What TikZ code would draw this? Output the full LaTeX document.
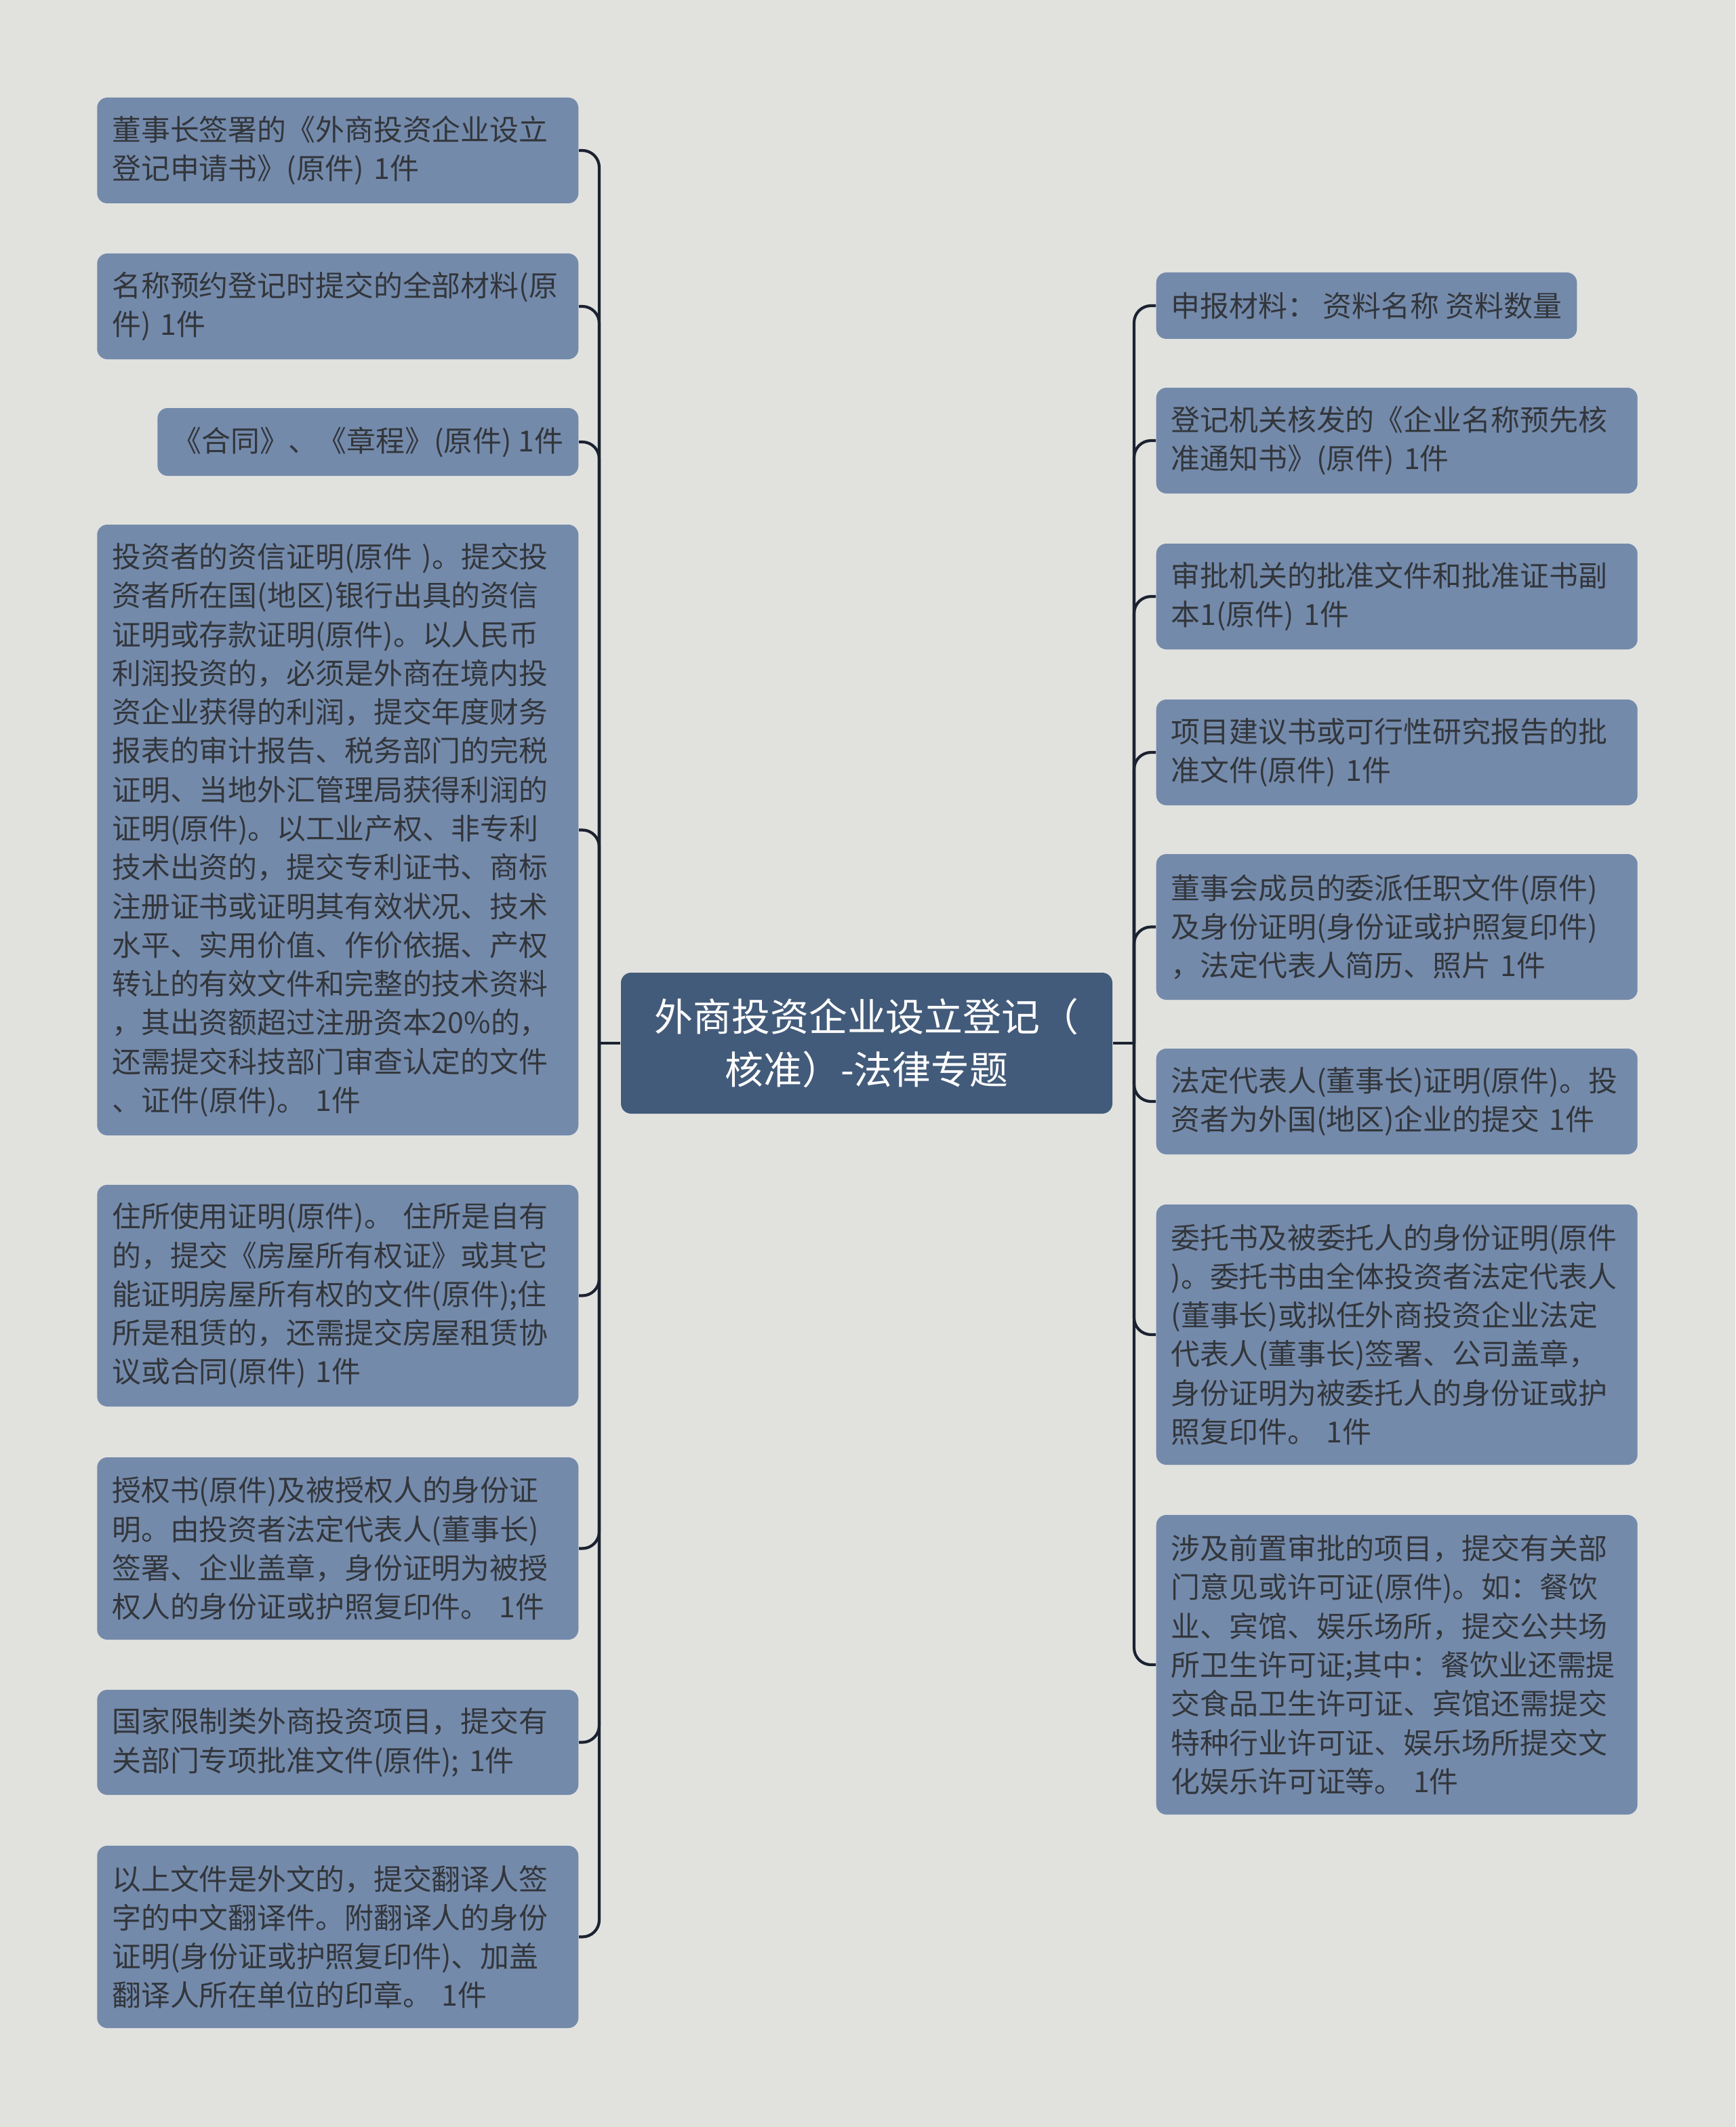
\documentclass[tikz,border=0pt]{standalone}
\usepackage{fontspec}
\setmainfont{Noto Sans CJK SC}
\usetikzlibrary{positioning}
\definecolor{bgcol}{HTML}{E1E2DE}
\definecolor{leafcol}{HTML}{748AAB}
\definecolor{rootcol}{HTML}{435B7A}
\definecolor{linecol}{HTML}{1B2230}
\definecolor{textcol}{HTML}{32363B}
\tikzset{
  leaf/.style={rectangle,rounded corners=0.15cm,fill=leafcol,text=textcol,
    font=\fontsize{12.2pt}{16.3pt}\selectfont,inner xsep=0.22cm,
    inner ysep=0.1cm,align=left},
  wide/.style={text width=6.66cm,minimum height=#1},
  leftleaf/.style={leaf,anchor=east},
  rightleaf/.style={leaf,anchor=west},
  root/.style={rectangle,rounded corners=0.15cm,fill=rootcol,text=white,
    font=\fontsize{16.2pt}{22pt}\selectfont,align=center,
    minimum width=7.25cm,minimum height=2.08cm},
  link/.style={draw=linecol,line width=1.2pt,rounded corners=0.25cm}
}

\begin{document}
\begin{tikzpicture}
  \fill[bgcol] (0,0) rectangle (25.6,-31.38);
  \useasboundingbox (0,0) rectangle (25.6,-31.38);

  \node (root) [root] at (12.785,-15.39)
    {外商投资企业设立登记（\\核准）-法律专题};

  % left side
  \node (l1) [leftleaf,wide=1.56cm] at (8.54,-2.22)
    {董事长签署的《外商投资企业设立\\
     登记申请书》(原件) 1件};
  \node (l2) [leftleaf,wide=1.56cm] at (8.54,-4.52)
    {名称预约登记时提交的全部材料(原\\
     件) 1件};
  \node (l3) [leftleaf,minimum height=1.0cm] at (8.54,-6.52)
    {《合同》、《章程》(原件) 1件};
  \node (l4) [leftleaf,wide=9.01cm] at (8.54,-12.245)
    {投资者的资信证明(原件 )。提交投\\
     资者所在国(地区)银行出具的资信\\
     证明或存款证明(原件)。以人民币\\
     利润投资的，必须是外商在境内投\\
     资企业获得的利润，提交年度财务\\
     报表的审计报告、税务部门的完税\\
     证明、当地外汇管理局获得利润的\\
     证明(原件)。以工业产权、非专利\\
     技术出资的，提交专利证书、商标\\
     注册证书或证明其有效状况、技术\\
     水平、实用价值、作价依据、产权\\
     转让的有效文件和完整的技术资料\\
     ，其出资额超过注册资本20\%的，\\
     还需提交科技部门审查认定的文件\\
     、证件(原件)。 1件};
  \node (l5) [leftleaf,wide=3.27cm] at (8.54,-19.115)
    {住所使用证明(原件)。 住所是自有\\
     的，提交《房屋所有权证》或其它\\
     能证明房屋所有权的文件(原件);住\\
     所是租赁的，还需提交房屋租赁协\\
     议或合同(原件) 1件};
  \node (l6) [leftleaf,wide=2.69cm] at (8.54,-22.845)
    {授权书(原件)及被授权人的身份证\\
     明。由投资者法定代表人(董事长)\\
     签署、企业盖章，身份证明为被授\\
     权人的身份证或护照复印件。 1件};
  \node (l7) [leftleaf,wide=1.55cm] at (8.54,-25.705)
    {国家限制类外商投资项目，提交有\\
     关部门专项批准文件(原件); 1件};
  \node (l8) [leftleaf,wide=2.69cm] at (8.54,-28.575)
    {以上文件是外文的，提交翻译人签\\
     字的中文翻译件。附翻译人的身份\\
     证明(身份证或护照复印件)、加盖\\
     翻译人所在单位的印章。 1件};

  % right side
  \node (r1) [rightleaf,minimum height=0.98cm] at (17.05,-4.51)
    {申报材料：\ 资料名称 资料数量};
  \node (r2) [rightleaf,wide=1.56cm] at (17.05,-6.50)
    {登记机关核发的《企业名称预先核\\
     准通知书》(原件) 1件};
  \node (r3) [rightleaf,wide=1.56cm] at (17.05,-8.80)
    {审批机关的批准文件和批准证书副\\
     本1(原件) 1件};
  \node (r4) [rightleaf,wide=1.56cm] at (17.05,-11.10)
    {项目建议书或可行性研究报告的批\\
     准文件(原件) 1件};
  \node (r5) [rightleaf,wide=2.15cm] at (17.05,-13.675)
    {董事会成员的委派任职文件(原件)\\
     及身份证明(身份证或护照复印件)\\
     ，法定代表人简历、照片 1件};
  \node (r6) [rightleaf,wide=1.56cm] at (17.05,-16.25)
    {法定代表人(董事长)证明(原件)。投\\
     资者为外国(地区)企业的提交 1件};
  \node (r7) [rightleaf,wide=3.84cm] at (17.05,-19.69)
    {委托书及被委托人的身份证明(原件\\
     )。委托书由全体投资者法定代表人\\
     (董事长)或拟任外商投资企业法定\\
     代表人(董事长)签署、公司盖章，\\
     身份证明为被委托人的身份证或护\\
     照复印件。 1件};
  \node (r8) [rightleaf,wide=4.42cm] at (17.05,-24.56)
    {涉及前置审批的项目，提交有关部\\
     门意见或许可证(原件)。如：餐饮\\
     业、宾馆、娱乐场所，提交公共场\\
     所卫生许可证;其中：餐饮业还需提\\
     交食品卫生许可证、宾馆还需提交\\
     特种行业许可证、娱乐场所提交文\\
     化娱乐许可证等。 1件};

  % connectors
  \coordinate (lj) at (8.84,-15.39);
  \coordinate (rj) at (16.73,-15.39);
  \draw[link] (root.west) -- (lj);
  \draw[link] (root.east) -- (rj);
  \foreach \i in {1,...,8}{
    \draw[link] (lj) |- (l\i.east);
    \draw[link] (rj) |- (r\i.west);
  }
\end{tikzpicture}
\end{document}
